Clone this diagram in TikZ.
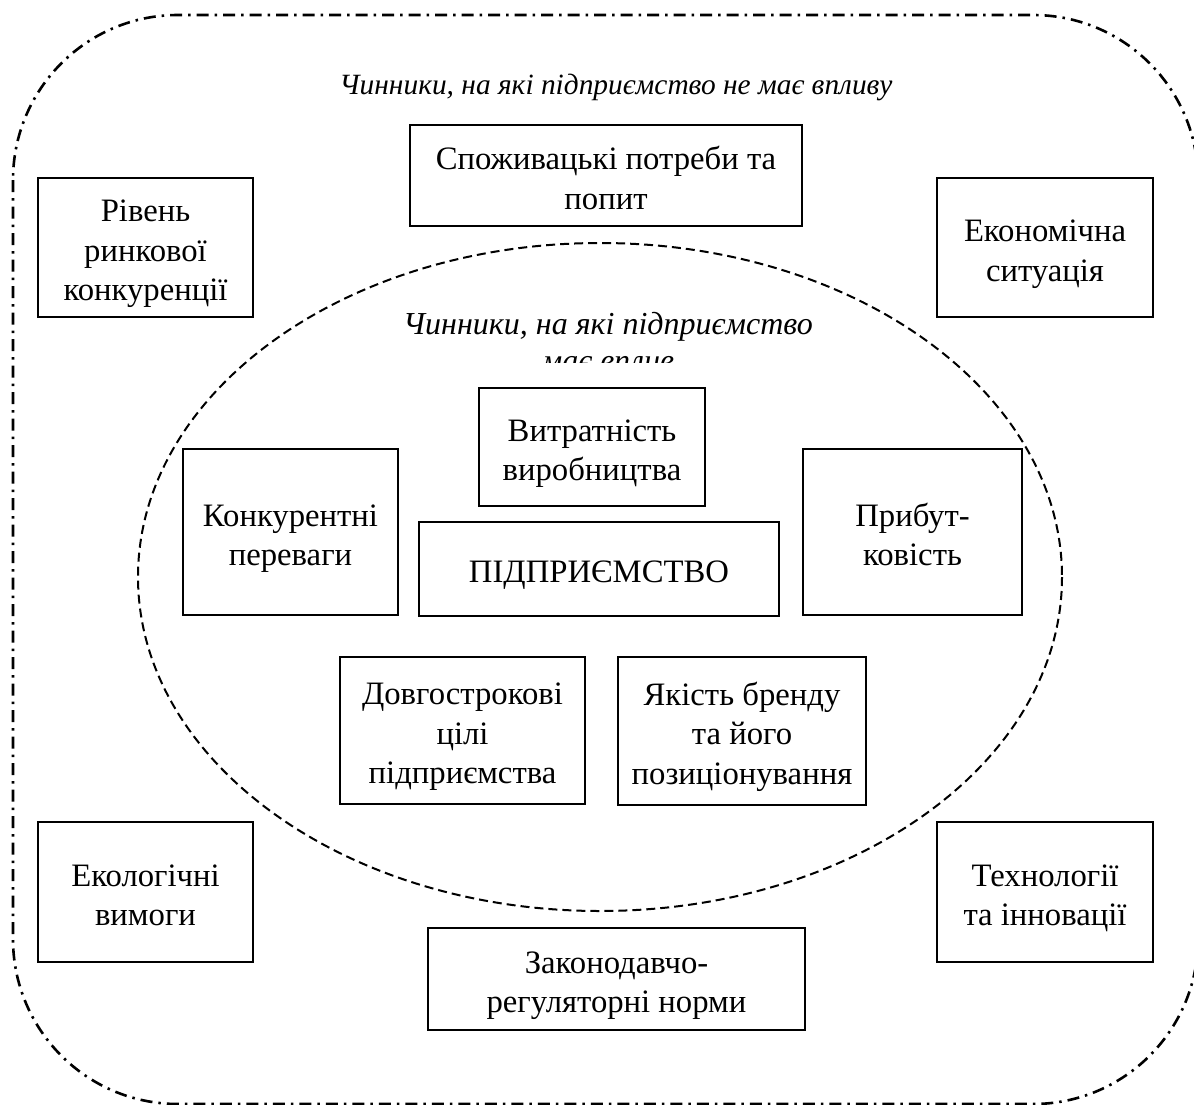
\documentclass[tikz,border=0pt]{standalone}
\usepackage{fontspec}
\setmainfont{Liberation Serif}
\newcommand\tS{\rule{0pt}{35.2pt}}
\newcommand\bS{\rule[-7.5pt]{0pt}{7.5pt}}
\begin{document}
\begin{tikzpicture}[x=1pt,y=-1pt,
  factorbox/.style={draw,line width=2.4pt,inner sep=0pt,align=center,
    font=\fontsize{32.7}{39.5}\selectfont},
  outerline/.style={line width=2.6pt,dash pattern=on 12pt off 6pt on 2.5pt off 6pt},
  innerline/.style={line width=2pt,dash pattern=on 9pt off 5pt},
  labeltext/.style={inner sep=0pt,align=center,font=\itshape\fontsize{29.4}{35}\selectfont}]
\useasboundingbox (0,0) rectangle (1194,1104);
\clip (0,0) rectangle (1194,1104);
% outer region
\draw[outerline,rounded corners=165pt] (13,15) rectangle (1198,1104);
\node[labeltext] (outerlabel) at (616,87) {Чинники, на які підприємство не має впливу};
% inner region
\draw[innerline] (600,577) ellipse [x radius=462, y radius=334];
\begin{scope}
\clip (0,0) rectangle (1194,362);
\node[labeltext,font=\itshape\fontsize{32}{37}\selectfont] (innerlabel) at (608,342) {Чинники, на які підприємство\\має вплив};
\end{scope}
% outer factors
\node[factorbox,minimum width=392,minimum height=101] (potreby) at (606,175.5) {\tS Споживацькі потреби та\\попит\bS};
\node[factorbox,minimum width=215,minimum height=139] (riven) at (145.5,247.5) {\tS Рівень\\ринкової\\конкуренції\bS};
\node[factorbox,minimum width=216,minimum height=139] (ekonom) at (1045,247.5) {\tS Економічна\\ситуація\bS};
\node[factorbox,minimum width=215,minimum height=140] (ekolog) at (145.5,892) {\tS Екологічні\\вимоги\bS};
\node[factorbox,minimum width=216,minimum height=140] (tekhn) at (1045,892) {\tS Технології\\та інновації\bS};
\node[factorbox,minimum width=377,minimum height=102] (zakon) at (616.5,979) {\tS Законодавчо-\\регуляторні норми\bS};
% inner factors
\node[factorbox,minimum width=226,minimum height=118] (vytrat) at (592,447) {\tS Витратність\\виробництва\bS};
\node[factorbox,minimum width=360,minimum height=94] (pidpr) at (599,569) {\tS ПІДПРИЄМСТВО\bS};
\node[factorbox,minimum width=215,minimum height=166] (konkur) at (290.5,532) {\tS Конкурентні\\переваги\bS};
\node[factorbox,minimum width=219,minimum height=166] (prybut) at (912.5,532) {\tS Прибут-\\ковість\bS};
\node[factorbox,minimum width=245,minimum height=147] (dovh) at (462.5,730.5) {\tS Довгострокові\\цілі\\підприємства\bS};
\node[factorbox,minimum width=248,minimum height=148] (yakist) at (742,731) {\tS Якість бренду\\та його\\позиціонування\bS};
\end{tikzpicture}
\end{document}
